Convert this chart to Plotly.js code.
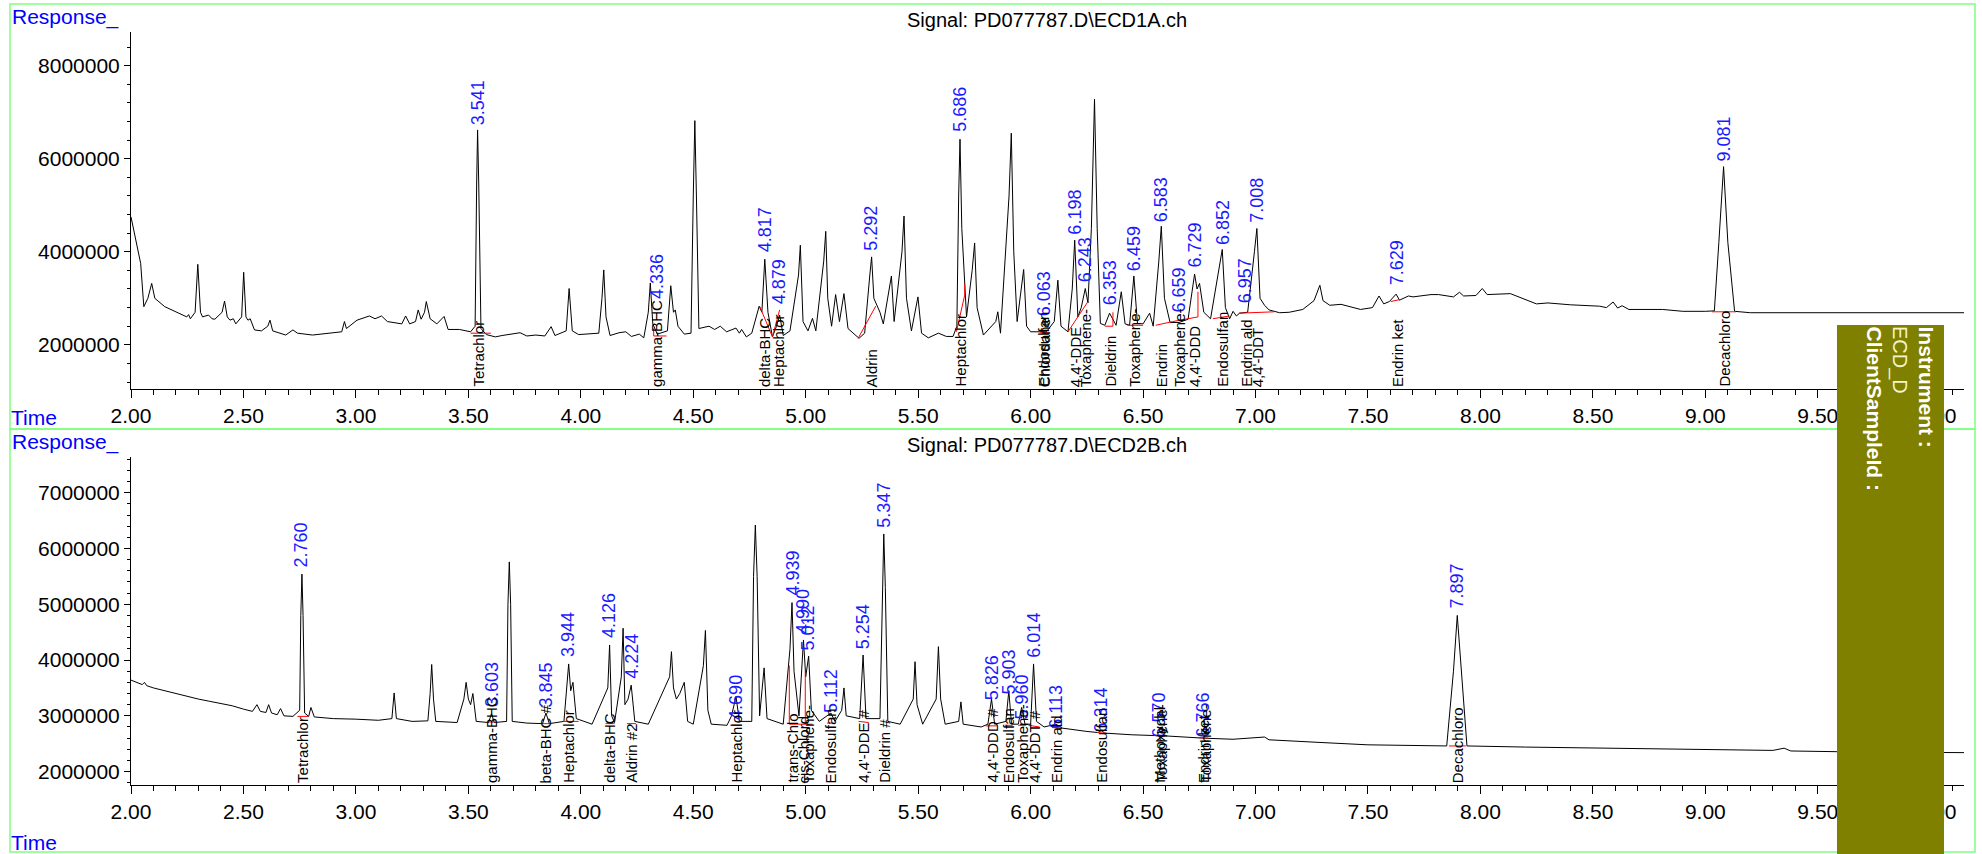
<!DOCTYPE html>
<html><head><meta charset="utf-8">
<script src="https://cdn.plot.ly/plotly-3.0.1.min.js"></script>
<style>html,body{margin:0;padding:0;background:#fff}</style>
</head><body><div id="chart" style="width:1982px;height:854px"></div>
<script>
// ---------- TOP SIGNAL (ECD1A) ----------
const topTime = [2.000,2.020,2.043,2.057,2.075,2.092,2.106,2.150,2.210,2.248,2.256,2.264,2.285,2.297,2.309,2.318,2.345,2.360,2.373,2.405,2.416,2.428,2.440,2.455,2.466,2.492,2.501,2.511,2.520,2.530,2.549,2.580,2.608,2.618,2.630,2.688,2.720,2.740,2.807,2.920,2.937,2.949,2.958,3.005,3.060,3.085,3.114,3.140,3.204,3.221,3.239,3.265,3.277,3.290,3.305,3.313,3.330,3.360,3.392,3.410,3.460,3.510,3.530,3.537,3.541,3.546,3.556,3.580,3.620,3.650,3.700,3.730,3.760,3.800,3.840,3.868,3.885,3.935,3.948,3.962,3.990,4.030,4.080,4.094,4.102,4.112,4.130,4.170,4.200,4.225,4.260,4.280,4.300,4.309,4.320,4.340,4.385,4.400,4.412,4.420,4.432,4.460,4.490,4.500,4.507,4.514,4.525,4.570,4.595,4.620,4.648,4.690,4.705,4.715,4.736,4.760,4.793,4.805,4.818,4.832,4.852,4.870,4.884,4.900,4.930,4.968,4.976,4.988,5.010,5.030,5.045,5.080,5.089,5.098,5.115,5.133,5.150,5.170,5.188,5.237,5.262,5.285,5.293,5.303,5.315,5.330,5.345,5.372,5.381,5.393,5.428,5.437,5.448,5.470,5.499,5.515,5.545,5.590,5.625,5.655,5.672,5.680,5.686,5.694,5.705,5.715,5.740,5.751,5.762,5.790,5.845,5.854,5.866,5.904,5.914,5.925,5.940,5.960,5.969,5.982,6.000,6.070,6.105,6.121,6.135,6.166,6.185,6.196,6.210,6.225,6.243,6.255,6.270,6.284,6.296,6.310,6.330,6.351,6.366,6.380,6.403,6.420,6.440,6.459,6.475,6.500,6.529,6.545,6.570,6.581,6.595,6.620,6.660,6.700,6.729,6.740,6.751,6.770,6.800,6.840,6.852,6.866,6.885,6.900,6.915,6.929,6.965,6.995,7.006,7.020,7.040,7.060,7.107,7.150,7.210,7.260,7.286,7.300,7.330,7.380,7.420,7.467,7.520,7.549,7.570,7.595,7.625,7.640,7.680,7.700,7.780,7.814,7.880,7.907,7.925,7.980,8.008,8.030,8.133,8.200,8.249,8.300,8.400,8.530,8.560,8.590,8.610,8.630,8.660,8.810,8.900,9.000,9.040,9.060,9.081,9.100,9.130,9.200,9.500,9.800,10.150];
const topResponse = [4750000,4300000,3750000,2820000,3000000,3320000,3000000,2820000,2680000,2600000,2650000,2560000,2700000,3730000,2700000,2600000,2640000,2560000,2550000,2700000,2940000,2600000,2530000,2560000,2450000,2600000,3560000,2600000,2530000,2560000,2320000,2300000,2400000,2530000,2300000,2210000,2320000,2250000,2210000,2260000,2280000,2500000,2350000,2530000,2620000,2560000,2620000,2500000,2450000,2620000,2450000,2500000,2750000,2550000,2700000,2930000,2560000,2450000,2610000,2330000,2330000,2280000,2400000,5500000,6620000,5500000,2350000,2220000,2170000,2200000,2240000,2260000,2190000,2210000,2190000,2390000,2200000,2300000,3210000,2300000,2220000,2240000,2250000,3000000,3610000,2600000,2200000,2260000,2280000,2180000,2230000,2150000,2700000,3330000,2450000,2230000,2300000,3270000,2700000,2750000,2400000,2230000,2250000,5200000,6820000,5200000,2350000,2400000,2330000,2400000,2280000,2360000,2250000,2330000,2170000,2250000,2830000,2700000,3840000,2700000,2170000,2400000,2640000,2200000,2300000,3500000,4140000,2500000,2300000,2570000,2300000,3800000,4440000,3000000,2400000,3080000,2500000,3100000,2350000,2140000,2250000,3500000,3890000,3000000,2850000,2700000,2450000,3200000,3480000,2500000,4000000,4770000,3000000,2300000,3030000,2250000,2150000,2250000,2180000,2180000,2400000,5200000,6420000,4500000,3330000,2600000,3600000,4190000,2800000,2210000,2500000,2710000,2250000,5200000,6550000,4000000,2500000,3300000,3620000,2400000,2280000,2280000,2500000,3390000,2400000,2280000,3200000,4250000,2600000,2800000,3210000,2900000,4500000,7280000,4500000,2460000,2420000,2680000,2560000,2420000,3140000,2450000,2420000,3480000,2460000,2450000,2680000,2400000,3800000,4550000,3000000,2480000,2480000,2550000,3520000,3200000,3320000,2700000,2560000,3700000,4050000,2800000,2560000,2720000,2620000,2680000,2700000,4000000,4500000,3000000,2850000,2750000,2690000,2700000,2760000,2950000,3280000,2950000,2850000,2870000,2820000,2760000,2800000,3050000,2880000,2930000,3090000,2960000,3050000,3030000,3080000,3080000,3030000,3130000,3050000,3060000,3210000,3080000,3100000,2970000,2880000,2900000,2860000,2830000,2800000,2920000,2790000,2840000,2760000,2760000,2720000,2720000,2730000,4200000,5830000,4200000,2720000,2690000,2690000,2690000,2690000];
const topBaseTime = [3.51,3.60,null,4.324,4.324,4.381,null,4.796,4.852,4.884,null,5.233,5.311,null,5.670,5.707,5.707,null,6.040,6.085,null,6.166,6.255,null,6.330,6.366,6.366,null,6.430,6.500,null,6.556,6.632,6.744,6.744,null,6.810,6.884,null,6.926,7.084,null,7.601,7.649,null,9.030,9.136];
const topBaseResp = [2250000,2250000,null,2350000,2190000,2190000,null,2820000,2170000,2750000,null,2140000,2830000,null,2280000,3070000,3300000,null,2260000,2260000,null,2280000,2930000,null,2400000,2400000,2700000,null,2420000,2420000,null,2420000,2500000,2600000,3140000,null,2560000,2620000,null,2680000,2710000,null,2930000,2980000,null,2710000,2710000];
const topPeakRT = [3.541,4.336,4.817,4.879,5.292,5.686,6.063,6.198,6.243,6.353,6.459,6.583,6.659,6.729,6.852,6.957,7.008,7.629,9.081];
const topPeakLabelY = [6700000,2960000,3970000,2850000,4000000,6550000,2600000,4340000,3320000,2820000,3570000,4620000,2680000,3640000,4120000,2880000,4600000,3250000,5920000];
const topCompoundRT = [3.541,4.336,4.817,4.879,5.292,5.686,6.056,6.063,6.198,6.243,6.353,6.459,6.583,6.659,6.729,6.852,6.957,7.008,7.629,9.081];
const topCompounds = ["Tetrachlor","gamma-BHC","delta-BHC","Heptachlor","Aldrin","Heptachlor","Endosulfan","Chlordane","4,4'-DDE","Toxaphene-","Dieldrin","Toxaphene-","Endrin","Toxaphene-","4,4'-DDD","Endosulfan","Endrin ald","4,4'-DDT","Endrin ket","Decachloro"];

// ---------- BOTTOM SIGNAL (ECD2B) ----------
const botTime = [2.000,2.030,2.050,2.060,2.070,2.100,2.150,2.200,2.250,2.300,2.350,2.400,2.450,2.500,2.540,2.560,2.575,2.600,2.612,2.625,2.650,2.665,2.680,2.720,2.750,2.755,2.760,2.765,2.772,2.790,2.800,2.815,2.900,3.000,3.100,3.160,3.170,3.180,3.250,3.320,3.330,3.337,3.345,3.355,3.450,3.480,3.490,3.500,3.510,3.520,3.535,3.590,3.603,3.615,3.670,3.676,3.682,3.688,3.695,3.760,3.830,3.845,3.860,3.925,3.940,3.946,3.955,3.965,3.980,4.050,4.120,4.128,4.137,4.150,4.180,4.188,4.196,4.210,4.224,4.240,4.300,4.395,4.403,4.412,4.425,4.440,4.460,4.475,4.500,4.545,4.554,4.565,4.580,4.650,4.670,4.690,4.705,4.760,4.768,4.776,4.784,4.795,4.815,4.828,4.900,4.930,4.939,4.948,4.970,4.990,5.000,5.013,5.025,5.060,5.112,5.130,5.160,5.170,5.180,5.240,5.255,5.268,5.330,5.340,5.347,5.354,5.365,5.420,5.478,5.486,5.495,5.520,5.580,5.590,5.600,5.620,5.680,5.690,5.700,5.780,5.810,5.826,5.840,5.890,5.903,5.915,5.945,5.960,5.975,6.000,6.013,6.026,6.060,6.113,6.140,6.250,6.300,6.314,6.330,6.450,6.570,6.600,6.766,6.900,7.040,7.060,7.300,7.500,7.850,7.880,7.897,7.914,7.940,8.200,8.500,9.000,9.300,9.350,9.380,9.700,10.150];
const botResponse = [3640000,3600000,3560000,3600000,3540000,3500000,3450000,3400000,3340000,3300000,3260000,3220000,3180000,3120000,3080000,3200000,3080000,3060000,3200000,3050000,3020000,3130000,3000000,2990000,3100000,4800000,5540000,4800000,3050000,2990000,3150000,2980000,2950000,2940000,2920000,2950000,3410000,2950000,2900000,2910000,3400000,3920000,3300000,2900000,2880000,3300000,3600000,3300000,3200000,3400000,2900000,2880000,3040000,2880000,2900000,5000000,5760000,5000000,2900000,2870000,2860000,3050000,2860000,2900000,3700000,3930000,3450000,3600000,2950000,2850000,3500000,4270000,3000000,2880000,3700000,4570000,3200000,3300000,3550000,2900000,2850000,3700000,4150000,3500000,3300000,3400000,3600000,2900000,2850000,3900000,4530000,3100000,2850000,2830000,3000000,3350000,2900000,2900000,5500000,6420000,5500000,3000000,3860000,2950000,2850000,4200000,5030000,3800000,3000000,4360000,3700000,4070000,3100000,2900000,3050000,2900000,3100000,3500000,3000000,2950000,4090000,2950000,2950000,5300000,6260000,5300000,2900000,2850000,3300000,3970000,3200000,2850000,3300000,4240000,3300000,2850000,2900000,3250000,2850000,2800000,2850000,3300000,2850000,2900000,3450000,2850000,2850000,3150000,2850000,2850000,3930000,2900000,2800000,2850000,2780000,2720000,2700000,2740000,2690000,2660000,2650000,2640000,2600000,2580000,2620000,2570000,2520000,2480000,2460000,3800000,4800000,3800000,2460000,2440000,2420000,2390000,2380000,2420000,2370000,2350000,2340000];
const botBaseTime = [2.74,2.79,null,3.585,3.625,null,3.825,3.870,null,3.920,3.990,null,4.110,4.150,null,4.205,4.245,null,4.665,4.715,null,4.927,4.927,5.030,null,4.998,4.998,null,5.095,5.130,null,5.235,5.280,null,5.800,5.850,null,5.885,5.920,null,5.945,5.980,null,5.990,6.040,null,6.095,6.135,null,6.295,6.335,null,6.550,6.600,null,6.745,6.790,null,7.860,7.935];
const botBaseResp = [2990000,2990000,null,2890000,2890000,null,2860000,2860000,null,2900000,2900000,null,2860000,2860000,null,2860000,2860000,null,2830000,2830000,null,3900000,2850000,2850000,null,2850000,3800000,null,2870000,2870000,null,2900000,2880000,null,2820000,2820000,null,2830000,2830000,null,2830000,2830000,null,2830000,2800000,null,2790000,2780000,null,2700000,2690000,null,2650000,2640000,null,2610000,2600000,null,2460000,2460000];
const botPeakRT = [2.760,3.603,3.845,3.944,4.126,4.224,4.690,4.939,4.990,5.012,5.112,5.254,5.347,5.826,5.903,5.960,6.014,6.113,6.314,6.570,6.766,7.897];
const botPeakLabelY = [5650000,3140000,3140000,4030000,4370000,3640000,2900000,5130000,4450000,4150000,3030000,4180000,6360000,3260000,3370000,2920000,4030000,2750000,2680000,2600000,2600000,4900000];
const botCompoundRT = [2.760,3.603,3.845,3.944,4.126,4.224,4.690,4.939,4.990,5.012,5.112,5.254,5.347,5.826,5.903,5.960,6.014,6.113,6.314,6.570,6.578,6.766,6.774,7.897];
const botCompounds = ["Tetrachlor","gamma-BHC","beta-BHC #","Heptachlor","delta-BHC","Aldrin #2","Heptachlor","trans-Chlo","cis-Chlord","Toxaphene-","Endosulfan","4,4'-DDE #","Dieldrin #","4,4'-DDD #","Endosulfan","Toxaphene-","4,4'-DDT #","Endrin ald","Endosulfan","Methoxychl","Toxaphene-","Endrin ket","Toxaphene-","Decachloro"];

// ---------- header texts ----------
const signalTitles = ["Signal: PD077787.D\\ECD1A.ch","Signal: PD077787.D\\ECD2B.ch"];
const boxTexts = ["Instrument :","ECD_D","ClientSampleId :"];

const W = 1982, H = 854;
const px = v => v / W, py = v => 1 - v / H;
const FONT = 'Liberation Sans, Arial, Helvetica, sans-serif';

const traces = [
  {x: topTime, y: topResponse, xaxis:'x', yaxis:'y', mode:'lines', line:{color:'#000', width:1}, hoverinfo:'skip'},
  {x: topBaseTime, y: topBaseResp, xaxis:'x', yaxis:'y', mode:'lines', line:{color:'#ff0000', width:1}, connectgaps:false, hoverinfo:'skip'},
  {x: botTime, y: botResponse, xaxis:'x2', yaxis:'y2', mode:'lines', line:{color:'#000', width:1}, hoverinfo:'skip'},
  {x: botBaseTime, y: botBaseResp, xaxis:'x2', yaxis:'y2', mode:'lines', line:{color:'#ff0000', width:1}, connectgaps:false, hoverinfo:'skip'}
];

function xAxis(anchor){
  return {domain:[px(131), px(1964)], range:[2, 10.15], anchor:anchor, showline:true, linecolor:'#000', linewidth:1,
    ticks:'outside', ticklen:8, tickcolor:'#000', tickwidth:1, dtick:0.5, tick0:0, tickformat:'.2f',
    tickfont:{size:21, color:'#000', family:FONT}, showgrid:false, zeroline:false, fixedrange:true,
    minor:{dtick:0.1, tick0:0, ticklen:5, ticks:'outside', tickcolor:'#000', showgrid:false}};
}
function yAxis(anchor, dom, rng, dt, mdt){
  return {domain:dom, range:rng, anchor:anchor, showline:true, linecolor:'#000', linewidth:1,
    ticks:'outside', ticklen:6, tickcolor:'#000', dtick:dt, tick0:0, tickformat:'d',
    tickfont:{size:21, color:'#000', family:FONT}, showgrid:false, zeroline:false, fixedrange:true,
    minor:{dtick:mdt, tick0:0, ticklen:3, ticks:'outside', tickcolor:'#000', showgrid:false}};
}

const ann = [];
function txt(x, y, text, opts){ ann.push(Object.assign({x:px(x), y:py(y), xref:'paper', yref:'paper', text:text, showarrow:false, borderpad:0}, opts)); }
txt(11, 17, 'Response_', {xanchor:'left', yanchor:'middle', font:{size:21, color:'#0000ff', family:FONT}});
txt(10, 417, 'Time', {xanchor:'left', yanchor:'middle', font:{size:21, color:'#0000ff', family:FONT}});
txt(11, 442, 'Response_', {xanchor:'left', yanchor:'middle', font:{size:21, color:'#0000ff', family:FONT}});
txt(10, 842, 'Time', {xanchor:'left', yanchor:'middle', font:{size:21, color:'#0000ff', family:FONT}});
txt(1047, 20, signalTitles[0], {xanchor:'center', yanchor:'middle', font:{size:20, color:'#000', family:FONT}});
txt(1047, 445, signalTitles[1], {xanchor:'center', yanchor:'middle', font:{size:20, color:'#000', family:FONT}});
txt(1926, 325, boxTexts[0], {xanchor:'center', yanchor:'top', textangle:90, font:{size:21, color:'#fff', family:FONT, weight:'bold'}});
txt(1900, 325, boxTexts[1], {xanchor:'center', yanchor:'top', textangle:90, font:{size:20, color:'#f4f4c8', family:FONT}});
txt(1874, 325, boxTexts[2], {xanchor:'center', yanchor:'top', textangle:90, font:{size:21, color:'#fff', family:FONT, weight:'bold'}});

function peakLabels(rts, ys, xr, yr){
  rts.forEach((t,i)=>ann.push({x:t, y:ys[i], xref:xr, yref:yr, text:t.toFixed(3), showarrow:false, textangle:-90,
    xanchor:'center', yanchor:'bottom', borderpad:0, font:{size:18, color:'#1a1aff', family:FONT}}));
}
function compoundLabels(rts, names, xr, yr){
  rts.forEach((t,i)=>ann.push({x:t, y:0, xref:xr, yref:yr+' domain', text:names[i], showarrow:false, textangle:-90,
    xanchor:'center', yanchor:'bottom', yshift:1, borderpad:0, font:{size:15, color:'#000', family:FONT}}));
}
peakLabels(topPeakRT, topPeakLabelY, 'x', 'y');
compoundLabels(topCompoundRT, topCompounds, 'x', 'y');
peakLabels(botPeakRT, botPeakLabelY, 'x2', 'y2');
compoundLabels(botCompoundRT, botCompounds, 'x2', 'y2');

const shapes = [
  {type:'rect', xref:'paper', yref:'paper', x0:px(10), x1:px(1975), y0:py(4), y1:py(429), line:{color:'#7fff7f', width:1.5}, fillcolor:'rgba(0,0,0,0)', layer:'below'},
  {type:'rect', xref:'paper', yref:'paper', x0:px(10), x1:px(1975), y0:py(429), y1:py(852), line:{color:'#7fff7f', width:1.5}, fillcolor:'rgba(0,0,0,0)', layer:'below'},
  {type:'rect', xref:'paper', yref:'paper', x0:px(1837), x1:px(1944), y0:py(325), y1:py(860), line:{width:0}, fillcolor:'#808000', layer:'above'}
];

const layout = {
  width:W, height:H, margin:{l:0, r:0, t:0, b:0}, paper_bgcolor:'#fff', plot_bgcolor:'#fff', showlegend:false,
  font:{family:FONT, color:'#000'},
  xaxis: xAxis('y'),
  yaxis: yAxis('x', [py(389), py(32)], [1050000, 8725000], 2000000, 400000),
  xaxis2: xAxis('y2'),
  yaxis2: yAxis('x2', [py(785), py(456.7)], [1760000, 7645000], 1000000, 200000),
  annotations: ann, shapes: shapes
};
Plotly.newPlot('chart', traces, layout, {displayModeBar:false, staticPlot:true});
</script></body></html>
